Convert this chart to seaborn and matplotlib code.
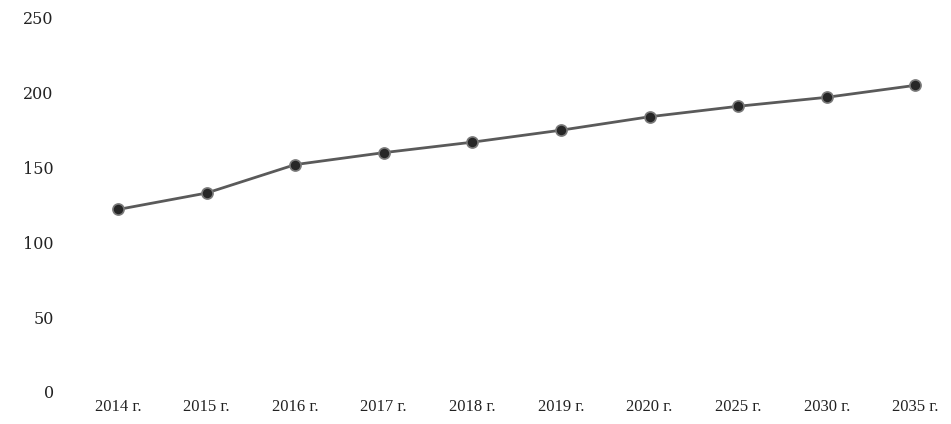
import matplotlib
matplotlib.use("Agg")
import matplotlib.pyplot as plt
import seaborn as sns
import pandas as pd

years = ["2014 г.", "2015 г.", "2016 г.", "2017 г.", "2018 г.", "2019 г.",
         "2020 г.", "2025 г.", "2030 г.", "2035 г."]
values = [122, 133, 152, 160, 167, 175, 184, 191, 197, 205]
yticks = [0, 50, 100, 150, 200, 250]

sns.set_theme(style="white")
plt.rcParams['font.family'] = ['Liberation Serif', 'DejaVu Serif']

df = pd.DataFrame({"year": years, "value": values})

W, H = 951, 424
fig = plt.figure(figsize=(W / 100, H / 100), dpi=100)
left_px, right_px = 62, 948
top_px, bottom_px = 18, 392
ax = fig.add_axes([left_px / W, 1 - bottom_px / H,
                   (right_px - left_px) / W, (bottom_px - top_px) / H])

sns.lineplot(data=df, x="year", y="value", sort=False, ax=ax,
             color="#5a5a5a", linewidth=2.0, marker="o", markersize=8,
             markerfacecolor="#262626", markeredgecolor="#7a7a7a",
             markeredgewidth=1.2)

x0_px, step_px = 118, 88.6
ax.set_xlim((left_px - x0_px) / step_px, (right_px - x0_px) / step_px)
ax.set_ylim(0, 250)
ax.set_yticks(yticks)
ax.set_yticklabels([str(t) for t in yticks], family=['DejaVu Serif'])
ax.set_xlabel("")
ax.set_ylabel("")
for s in ax.spines.values():
    s.set_visible(False)
ax.grid(False)
ax.tick_params(axis="y", length=0, pad=6, labelsize=11.5, colors="#222222")
ax.tick_params(axis="x", length=0, pad=5, labelsize=12, colors="#222222")

fig.savefig("out.png", dpi=100, facecolor="white")
